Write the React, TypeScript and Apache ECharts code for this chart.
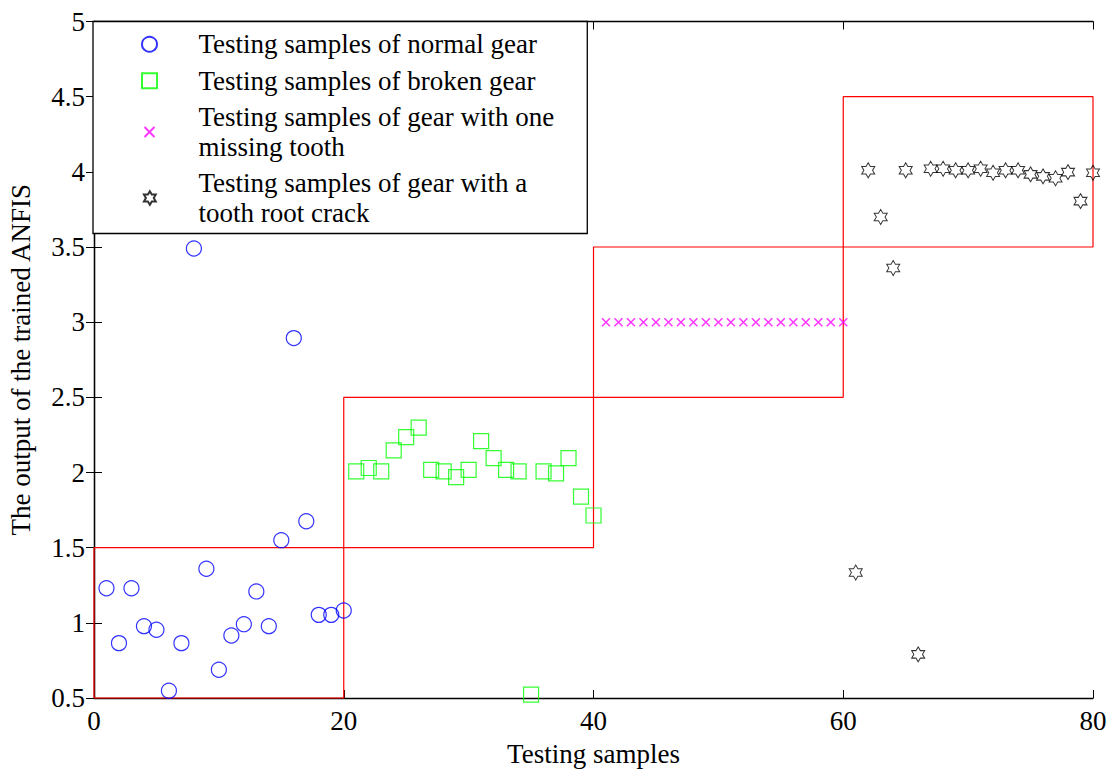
import React, { useEffect, useRef } from "react";
import * as echarts from "echarts";

const FONT = '"Liberation Serif", "Times New Roman", serif';

// Series names (legend)
const nameNormal = "Testing samples of normal gear";
const nameBroken = "Testing samples of broken gear";
const nameMissing = "Testing samples of gear with one\nmissing tooth";
const nameCrack = "Testing samples of gear with a\ntooth root crack";

// Sample indices and outputs
const normalX = [1, 2, 3, 4, 5, 6, 7, 8, 9, 10, 11, 12, 13, 14, 15, 16, 17, 18, 19, 20];
const normalY = [1.23, 0.865, 1.23, 0.978, 0.954, 0.548, 0.865, 3.49, 1.36, 0.688, 0.916, 0.991, 1.209, 0.978, 1.55, 2.894, 1.676, 1.053, 1.053, 1.082];

const brokenX = [21, 22, 23, 24, 25, 26, 27, 28, 29, 30, 31, 32, 33, 34, 35, 36, 37, 38, 39, 40];
const brokenY = [2.007, 2.03, 2.007, 2.147, 2.235, 2.298, 2.018, 2.007, 1.969, 2.018, 2.209, 2.096, 2.018, 2.007, 0.523, 2.007, 1.994, 2.096, 1.84, 1.714];

const missingX = [41, 42, 43, 44, 45, 46, 47, 48, 49, 50, 51, 52, 53, 54, 55, 56, 57, 58, 59, 60];
const missingY = [3, 3, 3, 3, 3, 3, 3, 3, 3, 3, 3, 3, 3, 3, 3, 3, 3, 3, 3, 3];

const crackX = [61, 62, 63, 64, 65, 66, 67, 68, 69, 70, 71, 72, 73, 74, 75, 76, 77, 78, 79, 80];
const crackY = [1.335, 4.01, 3.7, 3.36, 4.01, 0.79, 4.02, 4.02, 4.01, 4.01, 4.02, 3.994, 4.01, 4.01, 3.983, 3.97, 3.957, 3.998, 3.805, 3.994];

// Class decision regions (red boxes)
const regionStart = [0, 20, 40, 60];
const regionEnd = [20, 40, 60, 80];
const regionLower = [0.5, 1.5, 2.5, 3.5];
const regionUpper = [1.5, 2.5, 3.5, 4.5];

// Axis settings
const xMin = 0, xMax = 80, xStep = 20;
const yMin = 0.5, yMax = 5, yStep = 0.5;

const HEXAGRAM =
  "path://M10 0 L12.89 5 L18.66 5 L15.77 10 L18.66 15 L12.89 15 L10 20 L7.11 15 L1.34 15 L4.23 10 L1.34 5 L7.11 5 Z";
const XMARK = "path://M0 0 L10 10 M10 0 L0 10";
const XMARK_LEGEND = "path://M-2.5 -2.5 L-2.5 -2.5 M0 0 L10 10 M10 0 L0 10 M12.5 12.5 L12.5 12.5";
const HEXAGRAM_LEGEND =
  "path://M-1 -1 L-1 -1 M10 0 L12.89 5 L18.66 5 L15.77 10 L18.66 15 L12.89 15 L10 20 L7.11 15 L1.34 15 L4.23 10 L1.34 5 L7.11 5 Z M20 21 L20 21";
const SQUARE = "path://M0 0 L10 0 L10 10 L0 10 Z";

const zip = (xs: number[], ys: number[]) => xs.map((x, i) => [x, ys[i]]);

export default function App() {
  const ref = useRef<HTMLDivElement>(null);
  useEffect(() => {
    if (!ref.current) return;
    const chart = echarts.init(ref.current, null, { renderer: "svg" });

    const boxSeries = regionStart.map((s, i) => ({
      type: "line" as const,
      data: [
        [s, regionLower[i]],
        [regionEnd[i], regionLower[i]],
        [regionEnd[i], regionUpper[i]],
        [s, regionUpper[i]],
        [s, regionLower[i]],
      ],
      showSymbol: false,
      symbol: "none",
      clip: false,
      lineStyle: { color: "#ff0000", width: 1.2 },
      silent: true,
      z: 1,
    }));

    const axisCommon = {
      axisLine: { show: true, lineStyle: { color: "#000", width: 1.3 } },
      axisTick: { show: true, inside: true, length: 8, lineStyle: { color: "#000" } },
      splitLine: { show: false },
    };

    chart.setOption({
      animation: false,
      backgroundColor: "#fff",
      grid: { left: 94, right: 16, top: 21.5, bottom: 72, containLabel: false, outerBoundsMode: "none" },
      legend: {
        data: [
          { name: nameNormal },
          { name: nameBroken, icon: SQUARE },
          { name: nameMissing, icon: XMARK_LEGEND },
          { name: nameCrack, icon: HEXAGRAM_LEGEND },
        ],
        orient: "vertical",
        left: 93,
        top: 21.5,
        padding: [8, 33, 6, 48],
        itemWidth: 88,
        itemHeight: 15,
        itemGap: 7,
        backgroundColor: "#fff",
        borderColor: "#000",
        borderWidth: 1.3,
        borderRadius: 0,
        textStyle: { fontFamily: FONT, fontSize: 27, lineHeight: 29.5, color: "#000" },
        z: 10,
      },
      xAxis: [
        {
          type: "value",
          min: xMin,
          max: xMax,
          interval: xStep,
          position: "bottom",
          ...axisCommon,
          axisLabel: { fontFamily: FONT, fontSize: 27, color: "#000", margin: 9 },
          name: "Testing samples",
          nameLocation: "middle",
          nameGap: 42,
          nameTextStyle: { fontFamily: FONT, fontSize: 27, color: "#000" },
        },
        {
          type: "value",
          min: xMin,
          max: xMax,
          interval: xStep,
          position: "top",
          ...axisCommon,
          axisLabel: { show: false },
        },
      ],
      yAxis: [
        {
          type: "value",
          min: yMin,
          max: yMax,
          interval: yStep,
          position: "left",
          ...axisCommon,
          axisLabel: { fontFamily: FONT, fontSize: 27, color: "#000", margin: 9 },
          name: "The output of the trained ANFIS",
          nameLocation: "middle",
          nameRotate: 90,
          nameGap: 60,
          nameTextStyle: { fontFamily: FONT, fontSize: 27, color: "#000" },
        },
        {
          type: "value",
          min: yMin,
          max: yMax,
          interval: yStep,
          position: "right",
          ...axisCommon,
          axisLabel: { show: false },
        },
      ],
      series: [
        ...boxSeries,
        {
          name: nameNormal,
          type: "scatter",
          data: zip(normalX, normalY),
          symbol: "circle",
          symbolSize: 15,
          clip: false,
          itemStyle: { color: "rgba(0,0,0,0)", borderColor: "#0000ff", borderWidth: 1.2 },
          z: 3,
        },
        {
          name: nameBroken,
          type: "scatter",
          data: zip(brokenX, brokenY),
          symbol: SQUARE,
          symbolSize: 15,
          clip: false,
          itemStyle: { color: "rgba(0,0,0,0)", borderColor: "#00ff00", borderWidth: 1.2 },
          z: 3,
        },
        {
          name: nameMissing,
          type: "scatter",
          data: zip(missingX, missingY),
          symbol: XMARK,
          symbolSize: 8,
          clip: false,
          itemStyle: { color: "rgba(0,0,0,0)", borderColor: "#ff00ff", borderWidth: 1.5 },
          z: 3,
        },
        {
          name: nameCrack,
          type: "scatter",
          data: zip(crackX, crackY),
          symbol: HEXAGRAM,
          symbolSize: [13, 15],
          clip: false,
          itemStyle: { color: "rgba(0,0,0,0)", borderColor: "#000", borderWidth: 1 },
          z: 3,
        },
      ],
    });
    return () => chart.dispose();
  }, []);
  return (
    <div
      ref={ref}
      style={{ position: "fixed", left: 0, top: 0, width: 1109, height: 770, background: "#fff" }}
    />
  );
}
